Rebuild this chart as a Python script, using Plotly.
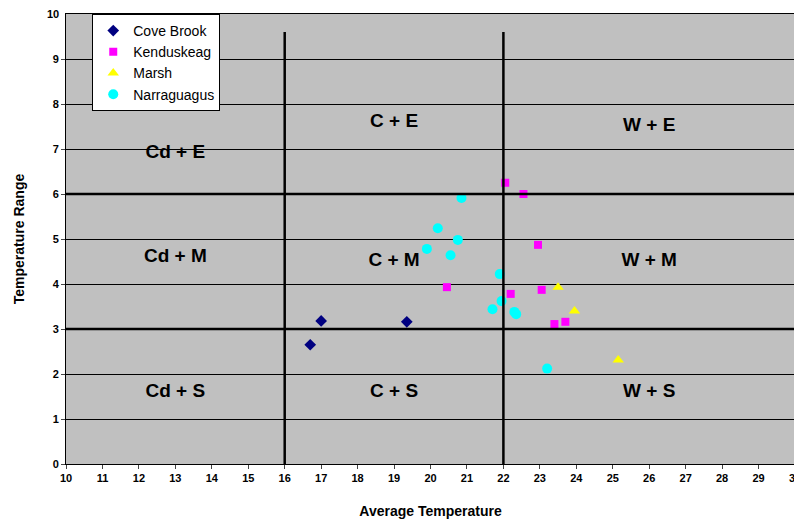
import plotly.graph_objects as go

cove_x = [16.7, 17.0, 19.35]
cove_y = [2.65, 3.18, 3.16]
ken_x = [22.05, 22.55, 22.95, 20.45, 22.2, 23.05, 23.4, 23.7]
ken_y = [6.25, 6.0, 4.87, 3.93, 3.78, 3.87, 3.11, 3.16]
marsh_x = [23.5, 23.95, 25.15]
marsh_y = [3.93, 3.4, 2.31]
nar_x = [20.85, 20.2, 20.75, 20.55, 19.9, 21.9, 21.95, 21.7, 22.35, 23.2, 22.3]
nar_y = [5.91, 5.24, 4.98, 4.64, 4.78, 4.22, 3.62, 3.44, 3.33, 2.12, 3.38]

regions = ["Cd + E", "C + E", "W + E", "Cd + M", "C + M", "W + M", "Cd + S", "C + S", "W + S"]
region_x = [13, 19, 26, 13, 19, 26, 13, 19, 26]
region_y = [6.9, 7.6, 7.5, 4.6, 4.5, 4.5, 1.6, 1.6, 1.6]
y_ticks = list(range(0, 10))

fig = go.Figure()
def add(name, x, y, sym, col, size):
    fig.add_trace(go.Scatter(x=x, y=y, mode="markers", name=name,
        marker=dict(symbol=sym, color=col, size=size, line=dict(width=0))))
add("Cove Brook", cove_x, cove_y, "diamond", "#000080", 9)
add("Kenduskeag", ken_x, ken_y, "square", "#FF00FF", 8)
add("Marsh", marsh_x, marsh_y, "triangle-up", "#FFFF00", 10)
add("Narraguagus", nar_x, nar_y, "circle", "#00FFFF", 10)

fig.add_trace(go.Scatter(x=region_x, y=region_y, mode="text", text=["<b>%s</b>" % r for r in regions],
    showlegend=False, textfont=dict(size=19, family="Arial", color="black"), hoverinfo="skip"))

for xv in [16, 22]:
    fig.add_shape(type="line", x0=xv, x1=xv, y0=0, y1=9.6, line=dict(color="black", width=2.5))
for yv in [3, 6]:
    fig.add_shape(type="line", x0=10, x1=30, y0=yv, y1=yv, line=dict(color="black", width=2.5))

fig.add_annotation(text="<b>10</b>", xref="paper", x=0, xanchor="right", xshift=-5,
                   yref="y", y=10, yanchor="middle", showarrow=False,
                   font=dict(size=11, family="Arial"))

fig.update_layout(
    width=802, height=523, margin=dict(l=58, r=15, t=6, b=67, autoexpand=False),
    paper_bgcolor="white", plot_bgcolor="#C0C0C0",
    font=dict(family="Arial", color="black"),
    legend=dict(x=0.036, y=1, xanchor="left", yanchor="top", bgcolor="white",
                bordercolor="black", borderwidth=1, font=dict(size=14), tracegroupgap=0,
                itemwidth=30),
    xaxis=dict(range=[10, 30], dtick=1, showgrid=False, showline=True, linecolor="black",
               mirror=True, ticks="outside", ticklen=4, automargin=False,
               tickfont=dict(size=11, family="Arial", weight="bold"),
               title=dict(text="<b>Average Temperature</b>", font=dict(size=14), standoff=22)),
    yaxis=dict(range=[0, 10], tickvals=y_ticks, showgrid=True, gridcolor="black", gridwidth=1,
               showline=True, linecolor="black", mirror=True, ticks="outside", ticklen=4,
               zeroline=False, automargin=False, tickfont=dict(size=11, family="Arial", weight="bold"),
               title=dict(text="<b>Temperature Range</b>", font=dict(size=14), standoff=24)),
)
fig.write_html("out.html")
